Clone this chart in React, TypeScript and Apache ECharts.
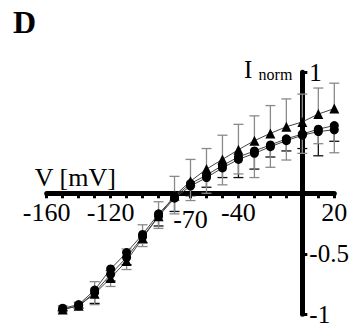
import React, { useEffect, useRef } from "react";
import * as echarts from "echarts";

const voltages = [-150, -140, -130, -120, -110, -100, -90, -80, -70, -60, -50, -40, -30, -20, -10, 0, 10, 20];
const triangleI = [-0.96, -0.93, -0.83, -0.7, -0.56, -0.37, -0.19, -0.02, 0.1, 0.2, 0.28, 0.36, 0.435, 0.495, 0.55, 0.59, 0.655, 0.7];
const circleAI = [-0.95, -0.92, -0.8, -0.625, -0.49, -0.34, -0.17, -0.03, 0.08, 0.15, 0.23, 0.3, 0.35, 0.4, 0.45, 0.49, 0.53, 0.56];
const circleBI = [-0.96, -0.93, -0.82, -0.67, -0.53, -0.36, -0.19, -0.04, 0.06, 0.13, 0.21, 0.28, 0.33, 0.385, 0.435, 0.48, 0.51, 0.525];
const triangleErr = [0.03, 0.03, 0.1, 0.06, 0.1, 0.11, 0.12, 0.16, 0.18, 0.17, 0.2, 0.21, 0.205, 0.23, 0.23, 0.23, 0.215, 0.21];
const circleAErr = [0.02, 0.03, 0.11, 0.1, 0.1, 0.07, 0.1, 0.12, 0.1, 0.1, 0.1, 0.17, 0.15, 0.1, 0.1, 0.12, 0.22, 0.13];
const circleBErr = [0.02, 0.02, 0.1, 0.1, 0.1, 0.08, 0.1, 0.13, 0.12, 0.13, 0.14, 0.12, 0.2, 0.17, 0.16, 0.15, 0.1, 0.19];
const xTickLabels = [-160, -120, -70, -40, 20];
const yTickLabels = [1, -0.5, -1];

const FONT = "Liberation Serif";

const GRID = { left: 46.7, right: 21.7, top: 72.3, bottom: 17.7 };
const W = 356;
const H = 332;
const X_MIN = -160;
const X_MAX = 20;
const Y_MIN = -1;
const Y_MAX = 1;

function errorSeries(values: number[], errs: number[], up: boolean, color: string) {
  return {
    type: "custom",
    z: 1,
    silent: true,
    data: voltages.map((v, i) => [v, values[i], up ? values[i] + errs[i] : values[i] - errs[i]]),
    renderItem: (params: any, api: any) => {
      const x = api.value(0);
      const p1 = api.coord([x, api.value(1)]);
      const p2 = api.coord([x, api.value(2)]);
      const style = { stroke: color, lineWidth: 1.3 };
      return {
        type: "group",
        children: [
          { type: "line", shape: { x1: p1[0], y1: p1[1], x2: p2[0], y2: p2[1] }, style },
          { type: "line", shape: { x1: p2[0] - 5, y1: p2[1], x2: p2[0] + 5, y2: p2[1] }, style },
        ],
      };
    },
  };
}

function lineSeries(values: number[], symbol: string, size: number) {
  return {
    type: "line",
    z: 3,
    data: voltages.map((v, i) => [v, values[i]]),
    symbol,
    symbolSize: size,
    showSymbol: true,
    itemStyle: { color: "#000" },
    lineStyle: { color: "#444", width: 1 },
  };
}

export default function App() {
  const ref = useRef<HTMLDivElement>(null);
  useEffect(() => {
    document.body.style.margin = "0";
    if (!ref.current) return;
    const chart = echarts.init(ref.current, null, { renderer: "svg" });
    const gridH = H - GRID.top - GRID.bottom;
    const gridW = W - GRID.left - GRID.right;
    // move the axes to the zero lines (offset keeps labels with the line)
    const xAxisOffset = -((0 - Y_MIN) / (Y_MAX - Y_MIN)) * gridH;
    const yAxisOffset = -((X_MAX - 0) / (X_MAX - X_MIN)) * gridW;
    chart.setOption({
      animation: false,
      backgroundColor: "#fff",
      title: {
        text: "D",
        left: 8,
        top: 1,
        textStyle: { fontFamily: FONT, fontWeight: "bold", fontSize: 32, color: "#000" },
      },
      grid: { ...GRID, containLabel: false, outerBoundsMode: "none" },
      xAxis: {
        type: "value",
        min: X_MIN,
        max: X_MAX,
        interval: 10,
        position: "bottom",
        offset: xAxisOffset,
        name: "V [mV]",
        nameLocation: "start",
        nameGap: 12,
        nameTextStyle: {
          fontFamily: FONT,
          fontSize: 26,
          color: "#000",
          align: "left",
          verticalAlign: "bottom",
          padding: [0, 0, 3, 0],
        },
        axisLine: { show: true, onZero: false, lineStyle: { color: "#000", width: 5 } },
        axisTick: { show: true, length: 5, lineStyle: { color: "#000", width: 3 } },
        splitLine: { show: false },
        axisLabel: {
          margin: 6,
          fontFamily: FONT,
          fontSize: 26,
          color: "#000",
          formatter: (v: number) => {
            if (!xTickLabels.includes(v)) return "";
            if (v === -70) return "{lo|" + v + "}";
            return String(v);
          },
          rich: {
            lo: { fontFamily: FONT, fontSize: 26, color: "#000", padding: [7, 0, 0, 0] },
          },
        },
      },
      yAxis: {
        type: "value",
        min: Y_MIN,
        max: Y_MAX,
        interval: 0.5,
        position: "right",
        offset: yAxisOffset,
        name: "{a|I }{b|norm}",
        nameLocation: "end",
        nameGap: -10,
        nameTextStyle: {
          align: "right",
          verticalAlign: "bottom",
          padding: [0, 10, 0, 0],
          rich: {
            a: { fontFamily: FONT, fontSize: 25, color: "#000", verticalAlign: "bottom" },
            b: { fontFamily: FONT, fontSize: 16, color: "#000", verticalAlign: "bottom" },
          },
        },
        axisLine: { show: true, onZero: false, lineStyle: { color: "#000", width: 5 } },
        axisTick: { show: true, length: 5, lineStyle: { color: "#000", width: 3 } },
        splitLine: { show: false },
        axisLabel: {
          margin: 7,
          fontFamily: FONT,
          fontSize: 25,
          color: "#000",
          formatter: (v: number) => (yTickLabels.some((l) => Math.abs(l - v) < 1e-9) ? String(v) : ""),
        },
      },
      series: [
        errorSeries(triangleI, triangleErr, true, "#8a8a8a"),
        errorSeries(circleAI, circleAErr, false, "#111"),
        errorSeries(circleBI, circleBErr, false, "#8a8a8a"),
        lineSeries(triangleI, "triangle", 10),
        lineSeries(circleAI, "circle", 9),
        lineSeries(circleBI, "circle", 9),
      ],
    });
    return () => chart.dispose();
  }, []);
  return <div ref={ref} style={{ width: W, height: H }} />;
}
